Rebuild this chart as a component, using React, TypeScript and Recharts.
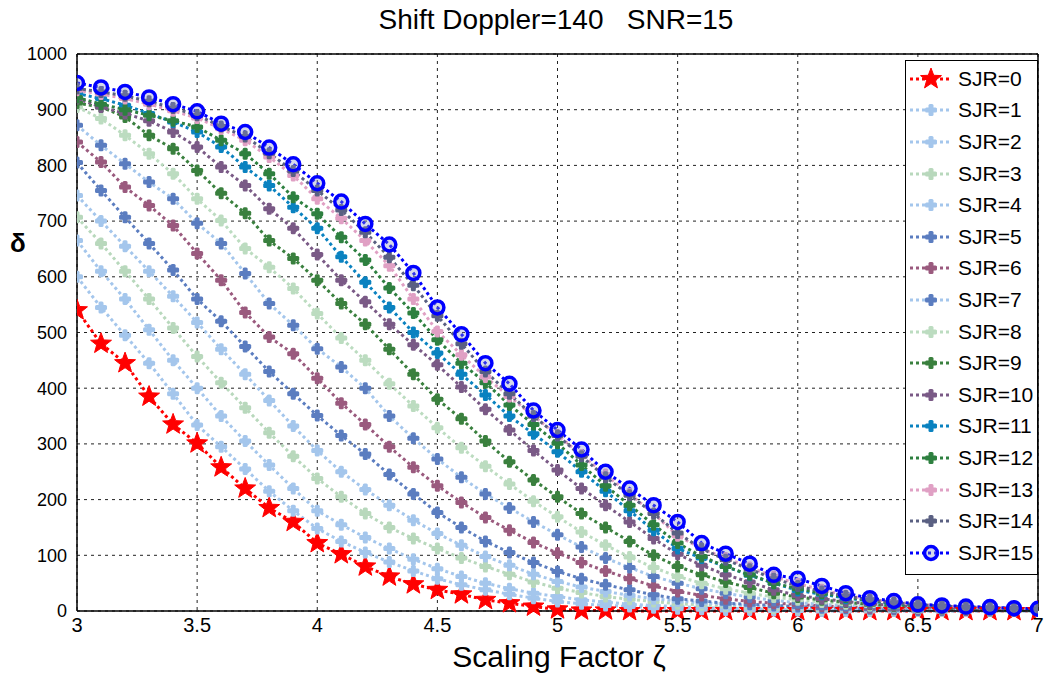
import React from 'react';
import {
  LineChart,
  Line,
  XAxis,
  YAxis,
  CartesianGrid,
  ReferenceLine,
} from 'recharts';

// scaling factor values (x axis)
const scaling = [
  3.0, 3.1, 3.2, 3.3, 3.4, 3.5, 3.6, 3.7, 3.8, 3.9, 4.0,
  4.1, 4.2, 4.3, 4.4, 4.5, 4.6, 4.7, 4.8, 4.9, 5.0,
  5.1, 5.2, 5.3, 5.4, 5.5, 5.6, 5.7, 5.8, 5.9, 6.0,
  6.1, 6.2, 6.3, 6.4, 6.5, 6.6, 6.7, 6.8, 6.9, 7.0,
];

const xTicks = [3, 3.5, 4, 4.5, 5, 5.5, 6, 6.5, 7];
const yTicks = [0, 100, 200, 300, 400, 500, 600, 700, 800, 900, 1000];

// delta for each SJR
const sjr0 = [540, 480, 445, 385, 335, 301, 258, 220, 185, 160, 122, 102, 80, 62, 48, 38, 30, 20, 14, 8, 3, 1, 1, 0, 0, 0, 0, 0, 0, 0, 0, 0, 0, 0, 0, 0, 0, 0, 0, 0, 0];
const sjr1 = [600, 545, 495, 445, 390, 334, 295, 255, 215, 180, 148, 125, 105, 88, 72, 58, 47, 38, 30, 23, 17, 13, 10, 8, 6, 4, 3, 2, 2, 1, 1, 0, 0, 0, 0, 0, 0, 0, 0, 0, 0];
const sjr2 = [665, 610, 560, 505, 450, 400, 350, 305, 262, 220, 180, 155, 132, 112, 93, 76, 62, 50, 40, 32, 26, 20, 16, 12, 10, 8, 6, 5, 4, 3, 2, 2, 1, 1, 1, 1, 0, 0, 0, 0, 0];
const sjr3 = [707, 660, 610, 560, 508, 457, 410, 365, 320, 278, 238, 205, 175, 150, 130, 112, 95, 80, 66, 52, 41, 33, 26, 21, 17, 13, 11, 9, 7, 5, 4, 3, 3, 2, 2, 1, 1, 1, 0, 0, 0];
const sjr4 = [746, 700, 655, 610, 565, 518, 470, 425, 378, 332, 288, 250, 218, 190, 163, 139, 118, 98, 82, 66, 53, 43, 35, 28, 22, 18, 15, 12, 10, 8, 6, 5, 4, 3, 3, 2, 2, 1, 1, 1, 0];
const sjr5 = [805, 755, 707, 660, 612, 560, 520, 475, 430, 390, 351, 315, 282, 245, 210, 177, 150, 125, 105, 87, 71, 58, 47, 38, 29, 22, 18, 14, 12, 10, 8, 6, 5, 4, 3, 2, 2, 2, 1, 1, 1];
const sjr6 = [842, 806, 761, 728, 692, 642, 594, 536, 492, 462, 418, 373, 335, 295, 258, 225, 195, 168, 145, 123, 104, 87, 72, 58, 45, 35, 28, 22, 17, 14, 12, 9, 7, 6, 5, 4, 3, 2, 2, 1, 1];
const sjr7 = [872, 836, 803, 770, 740, 696, 660, 606, 552, 513, 471, 438, 400, 350, 310, 273, 240, 210, 185, 160, 137, 115, 95, 78, 62, 50, 40, 32, 25, 19, 15, 12, 10, 8, 6, 5, 4, 3, 2, 1, 1];
const sjr8 = [905, 884, 854, 821, 785, 740, 701, 651, 617, 579, 534, 490, 450, 408, 368, 329, 293, 260, 228, 197, 169, 142, 118, 97, 78, 62, 50, 40, 32, 25, 20, 16, 13, 10, 8, 6, 5, 4, 3, 2, 2];
const sjr9 = [912, 905, 887, 854, 830, 791, 750, 714, 665, 633, 594, 552, 515, 470, 425, 380, 345, 305, 268, 235, 205, 175, 150, 125, 100, 80, 65, 52, 42, 32, 25, 20, 16, 12, 9, 7, 5, 4, 3, 2, 2];
const sjr10 = [920, 905, 893, 880, 860, 833, 797, 764, 722, 687, 640, 594, 555, 515, 478, 442, 402, 362, 325, 288, 253, 220, 190, 160, 130, 102, 82, 65, 52, 38, 28, 22, 17, 13, 10, 8, 6, 5, 4, 3, 2];
const sjr11 = [929, 920, 908, 893, 878, 860, 833, 797, 764, 725, 687, 636, 590, 545, 500, 463, 425, 388, 350, 318, 286, 250, 215, 180, 145, 112, 95, 80, 64, 50, 37, 30, 23, 18, 13, 10, 8, 6, 5, 4, 3];
const sjr12 = [922, 910, 900, 890, 880, 869, 845, 821, 785, 743, 713, 671, 630, 580, 535, 487, 445, 410, 370, 335, 301, 262, 225, 190, 155, 122, 98, 80, 65, 50, 40, 32, 25, 19, 14, 10, 8, 6, 5, 4, 3];
const sjr13 = [935, 928, 920, 910, 898, 885, 866, 845, 815, 782, 740, 705, 665, 620, 560, 502, 460, 420, 385, 350, 316, 280, 245, 210, 175, 135, 112, 95, 78, 62, 49, 38, 28, 21, 16, 12, 9, 7, 6, 5, 4];
const sjr14 = [938, 932, 925, 915, 903, 890, 870, 852, 822, 790, 755, 720, 680, 635, 585, 530, 480, 430, 390, 350, 315, 278, 240, 208, 175, 140, 112, 92, 75, 58, 45, 35, 27, 20, 15, 11, 9, 7, 6, 5, 4];
const sjr15 = [948, 940, 932, 922, 910, 897, 875, 860, 832, 802, 768, 735, 695, 658, 607, 545, 497, 445, 408, 360, 325, 290, 250, 220, 190, 160, 122, 103, 85, 65, 58, 45, 32, 23, 18, 12, 10, 8, 7, 5, 4];

const seriesValues = [sjr0, sjr1, sjr2, sjr3, sjr4, sjr5, sjr6, sjr7, sjr8, sjr9, sjr10, sjr11, sjr12, sjr13, sjr14, sjr15];
const seriesNames = seriesValues.map((_, i) => `SJR=${i}`);

type Shape = 'star' | 'plus' | 'circle';
type Style = { line: string; marker: string; shape: Shape };

const styles: Style[] = [
  { line: '#ff0000', marker: '#ff0000', shape: 'star' },
  { line: '#a4c6ec', marker: '#a4c6ec', shape: 'plus' },
  { line: '#a4c6ec', marker: '#a4c6ec', shape: 'plus' },
  { line: '#b8d8bc', marker: '#b8d8bc', shape: 'plus' },
  { line: '#a4c6ec', marker: '#a4c6ec', shape: 'plus' },
  { line: '#5b7dc0', marker: '#5b7dc0', shape: 'plus' },
  { line: '#9a5a7e', marker: '#9a5a7e', shape: 'plus' },
  { line: '#a4c6ec', marker: '#5b7dc0', shape: 'plus' },
  { line: '#bcdcc0', marker: '#bcdcc0', shape: 'plus' },
  { line: '#3a803e', marker: '#3a803e', shape: 'plus' },
  { line: '#7a5a86', marker: '#7a5a86', shape: 'plus' },
  { line: '#0a82c0', marker: '#0a82c0', shape: 'plus' },
  { line: '#2e8040', marker: '#2e8040', shape: 'plus' },
  { line: '#e0a0c4', marker: '#e0a0c4', shape: 'plus' },
  { line: '#5a6082', marker: '#5a6082', shape: 'plus' },
  { line: '#0000ff', marker: '#0000ff', shape: 'circle' },
];

const data = scaling.map((x, i) => {
  const row: Record<string, number> = { x };
  seriesValues.forEach((vals, s) => {
    row[`s${s}`] = vals[i];
  });
  return row;
});

function starPoints(cx: number, cy: number, R: number, r: number) {
  const pts: string[] = [];
  for (let k = 0; k < 10; k++) {
    const rad = k % 2 === 0 ? R : r;
    const a = -Math.PI / 2 + (k * Math.PI) / 5;
    pts.push(`${cx + rad * Math.cos(a)},${cy + rad * Math.sin(a)}`);
  }
  return pts.join(' ');
}

function Marker({ cx, cy, st }: { cx: number; cy: number; st: Style }) {
  if (st.shape === 'star') {
    return <polygon points={starPoints(cx, cy, 11, 4.6)} fill={st.marker} stroke={st.marker} strokeWidth={1} />;
  }
  if (st.shape === 'circle') {
    return <circle cx={cx} cy={cy} r={6.5} fill="#8890c8" fillOpacity={0.35} stroke={st.marker} strokeWidth={3.5} />;
  }
  return (
    <g fill={st.marker}>
      <rect x={cx - 6} y={cy - 2.5} width={12} height={5} rx={1.5} />
      <rect x={cx - 2.5} y={cy - 6} width={5} height={12} rx={1.5} />
    </g>
  );
}

const makeDot = (st: Style) => (props: any) => {
  const { cx, cy, index } = props;
  if (cx == null || cy == null) return <g key={`d${index}`} />;
  return <Marker key={`d${index}`} cx={cx} cy={cy} st={st} />;
};

const font = '"Liberation Sans", Arial, sans-serif';

function LegendBox() {
  return (
    <div
      style={{
        position: 'absolute',
        left: 905,
        top: 60,
        border: '1px solid #000',
        background: '#fff',
        width: 133,
        height: 515,
        boxSizing: 'border-box',
        paddingTop: 2,
        fontFamily: font,
        fontSize: 21,
      }}
    >
      {seriesNames.map((name, i) => (
        <div key={name} style={{ display: 'flex', alignItems: 'center', height: 31.6 }}>
          <svg width={46} height={24} style={{ marginLeft: 2, flex: 'none' }}>
            <line x1={2} y1={12} x2={44} y2={12} stroke={styles[i].line} strokeWidth={3} strokeDasharray="3 3" />
            <Marker cx={23} cy={12} st={styles[i]} />
          </svg>
          <span style={{ marginLeft: 4, color: '#000' }}>{name}</span>
        </div>
      ))}
    </div>
  );
}

export default function App() {
  return (
    <div style={{ position: 'absolute', left: 0, top: 0, width: 1045, height: 679, background: '#fff', fontFamily: font }}>
      <LineChart
        width={1045}
        height={679}
        data={data}
        margin={{ top: 54, right: 7, left: 27, bottom: 40 }}
      >
        <CartesianGrid stroke="#222" strokeDasharray="3 4" strokeWidth={1} />
        <XAxis
          dataKey="x"
          type="number"
          domain={[3, 7]}
          ticks={xTicks}
          allowDataOverflow
          height={28}
          tickLine={false}
          axisLine={{ stroke: '#000', strokeWidth: 1.5 }}
          tick={{ fontSize: 20, fill: '#000', fontFamily: font }}
          tickMargin={1}
        />
        <YAxis
          type="number"
          domain={[0, 1000]}
          ticks={yTicks}
          width={50}
          tickLine={false}
          axisLine={{ stroke: '#000', strokeWidth: 1.5 }}
          tick={{ fontSize: 18, fill: '#000', fontFamily: font }}
          tickMargin={4}
        />
        <ReferenceLine y={1000} stroke="#000" strokeWidth={1.5} />
        <ReferenceLine x={7} stroke="#000" strokeWidth={1.5} />
        {seriesValues.map((_, s) => (
          <Line
            key={s}
            type="linear"
            dataKey={`s${s}`}
            name={seriesNames[s]}
            stroke={styles[s].line}
            strokeWidth={3}
            strokeDasharray="3 3"
            dot={makeDot(styles[s])}
            activeDot={false}
            isAnimationActive={false}
          />
        ))}
      </LineChart>
      <div style={{ position: 'absolute', left: 0, width: 1112, top: 4, textAlign: 'center', fontSize: 28, color: '#000', whiteSpace: 'pre' }}>
        {'Shift Doppler=140   SNR=15'}
      </div>
      <div style={{ position: 'absolute', left: 10, top: 228, fontSize: 26, fontWeight: 'bold', color: '#000' }}>δ</div>
      <div style={{ position: 'absolute', left: 0, width: 1118, top: 641, textAlign: 'center', fontSize: 30, lineHeight: '32px', color: '#000' }}>
        Scaling Factor ζ
      </div>
      <LegendBox />
    </div>
  );
}
